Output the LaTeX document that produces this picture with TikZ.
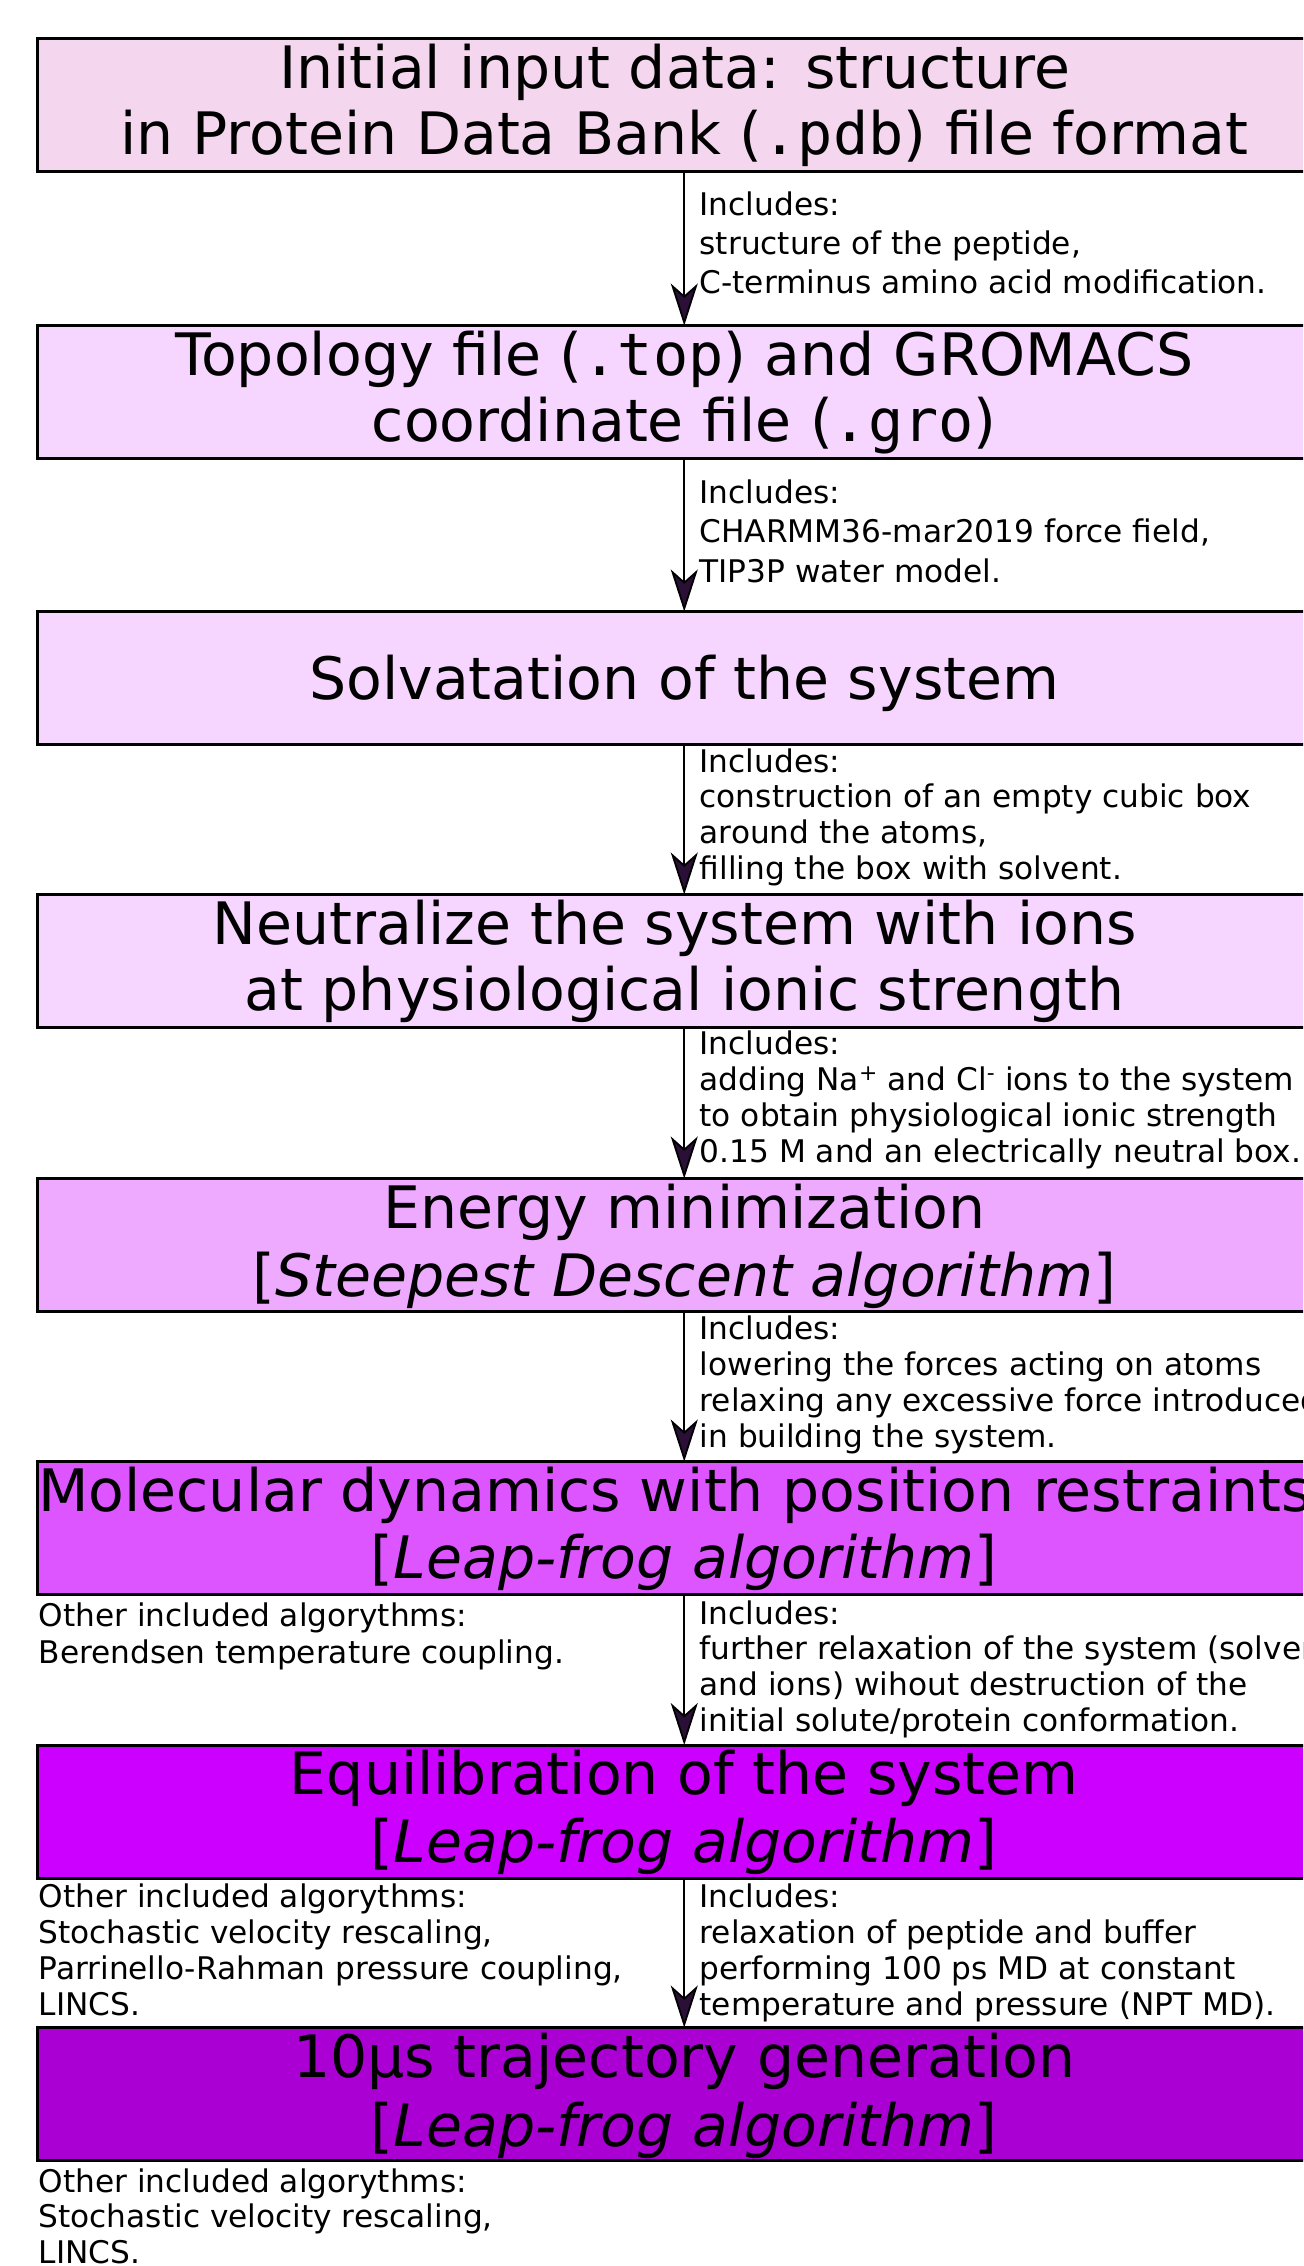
\documentclass[tikz,border=0pt]{standalone}
\usepackage{fontspec}
\setmainfont{DejaVu Sans}
\setmonofont{DejaVu Sans Mono}
\usetikzlibrary{arrows.meta}
\definecolor{cA}{HTML}{F4D7EE}
\definecolor{cB}{HTML}{F6D5FF}
\definecolor{cC}{HTML}{EEAAFF}
\definecolor{cD}{HTML}{DD55FF}
\definecolor{cE}{HTML}{CC00FF}
\definecolor{cF}{HTML}{AA00D4}
\definecolor{tipfill}{HTML}{2A0F36}
\newcommand{\ctrlines}[2]{\vtop{\baselineskip=#1\lineskiplimit=-200pt\relax\halign{\hfil##\hfil\cr#2\crcr}}}
\newcommand{\leftlines}[2]{\vtop{\baselineskip=#1\lineskiplimit=-200pt\relax\halign{##\hfil\cr#2\crcr}}}
\begin{document}
\begin{tikzpicture}[x=1pt,y=-1pt,
  box/.style={draw=black, line width=3pt, minimum width=1293.5pt, minimum height=133pt, inner sep=0pt, outer sep=0pt, anchor=north west},
  ttl/.style={anchor=base, inner sep=0pt, font=\fontsize{58.5pt}{66pt}\selectfont},
  lbl/.style={anchor=base west, inner sep=0pt, font=\fontsize{31.2pt}{36pt}\selectfont},
  flow/.style={line width=1.8pt, -{Stealth[length=42pt,width=27pt,inset=12pt,fill=tipfill]}}]
\useasboundingbox (0,0) rectangle (1303,2266);
\clip (0,0) rectangle (1303,2266);
\fill[white] (0,0) rectangle (1303,2266);

% boxes
\node[box, fill=cA] (b1) at (37.5,39) {};
\node[box, fill=cB] (b2) at (37.5,325.5) {};
\node[box, fill=cB] (b3) at (37.5,611.5) {};
\node[box, fill=cB] (b4) at (37.5,894.5) {};
\node[box, fill=cC] (b5) at (37.5,1178.5) {};
\node[box, fill=cD] (b6) at (37.5,1461.5) {};
\node[box, fill=cE] (b7) at (37.5,1745) {};
\node[box, fill=cF] (b8) at (37.5,2027.5) {};

% titles
\node[ttl] (t1) at (684.25,89) {\ctrlines{65.5pt}{Initial input data: structure\ \cr in Protein Data Bank (\texttt{.pdb}) file format}};
\node[ttl] (t2) at (684.25,375.5) {\ctrlines{65.5pt}{Topology file (\texttt{.top}) and GROMACS\cr coordinate file (\texttt{.gro})}};
\node[ttl] (t3) at (684.25,699) {Solvatation of the system};
\node[ttl] (t4) at (684.25,944.5) {\ctrlines{65.5pt}{Neutralize the system with ions\ \cr at physiological ionic strength}};
\node[ttl] (t5) at (684.25,1228.5) {\ctrlines{68pt}{Energy minimization\cr [\textit{Steepest Descent algorithm}]}};
\node[ttl] (t6) at (684.25,1511.5) {\ctrlines{67pt}{Molecular dynamics with position restraints\ \cr [\textit{Leap-frog algorithm}]}};
\node[ttl] (t7) at (684.25,1794.5) {\ctrlines{67.5pt}{Equilibration of the system\cr [\textit{Leap-frog algorithm}]}};
\node[ttl] (t8) at (684.25,2077) {\ctrlines{69pt}{10μs trajectory generation\cr [\textit{Leap-frog algorithm}]}};

% connectors
\draw[flow] (b1) -- (b2);
\draw[flow] (b2) -- (b3);
\draw[flow] (b3) -- (b4);
\draw[flow] (b4) -- (b5);
\draw[flow] (b5) -- (b6);
\draw[flow] (b6) -- (b7);
\draw[flow] (b7) -- (b8);

% right labels
\node[lbl] (n1) at (699.5,215.5) {\leftlines{39pt}{Includes:\cr structure of the peptide,\cr C-terminus amino acid modification.}};
\node[lbl] (n2) at (699.5,503) {\leftlines{39.5pt}{Includes:\cr CHARMM36-mar2019 force field,\cr TIP3P water model.}};
\node[lbl] (n3) at (699.5,772) {\leftlines{35.8pt}{Includes:\cr construction of an empty cubic box\cr around the atoms,\cr filling the box with solvent.}};
\node[lbl] (n4) at (699.5,1054) {\leftlines{36pt}{Includes:\cr adding Na\textsuperscript{+} and Cl\textsuperscript{-} ions to the system\cr to obtain physiological ionic strength\cr 0.15 M and an electrically neutral box.}};
\node[lbl] (n5) at (699.5,1339) {\leftlines{36.3pt}{Includes:\cr lowering the forces acting on atoms\cr relaxing any excessive force introduced\cr in building the system.}};
\node[lbl] (n6) at (699.5,1624) {\leftlines{35.7pt}{Includes:\cr further relaxation of the system (solvent\cr and ions) wihout destruction of the\cr initial solute/protein conformation.}};
\node[lbl] (n7) at (699.5,1907) {\leftlines{36pt}{Includes:\cr relaxation of peptide and buffer\cr performing 100 ps MD at constant\cr temperature and pressure (NPT MD).}};

% left labels
\node[lbl] (m6) at (38.5,1626.5) {\leftlines{37pt}{Other included algorythms:\cr Berendsen temperature coupling.}};
\node[lbl] (m7) at (38.5,1907) {\leftlines{36.3pt}{Other included algorythms:\cr Stochastic velocity rescaling,\cr Parrinello-Rahman pressure coupling,\cr LINCS.}};
\node[lbl] (m8) at (38.5,2192) {\leftlines{35.8pt}{Other included algorythms:\cr Stochastic velocity rescaling,\cr LINCS.}};
\end{tikzpicture}
\end{document}
